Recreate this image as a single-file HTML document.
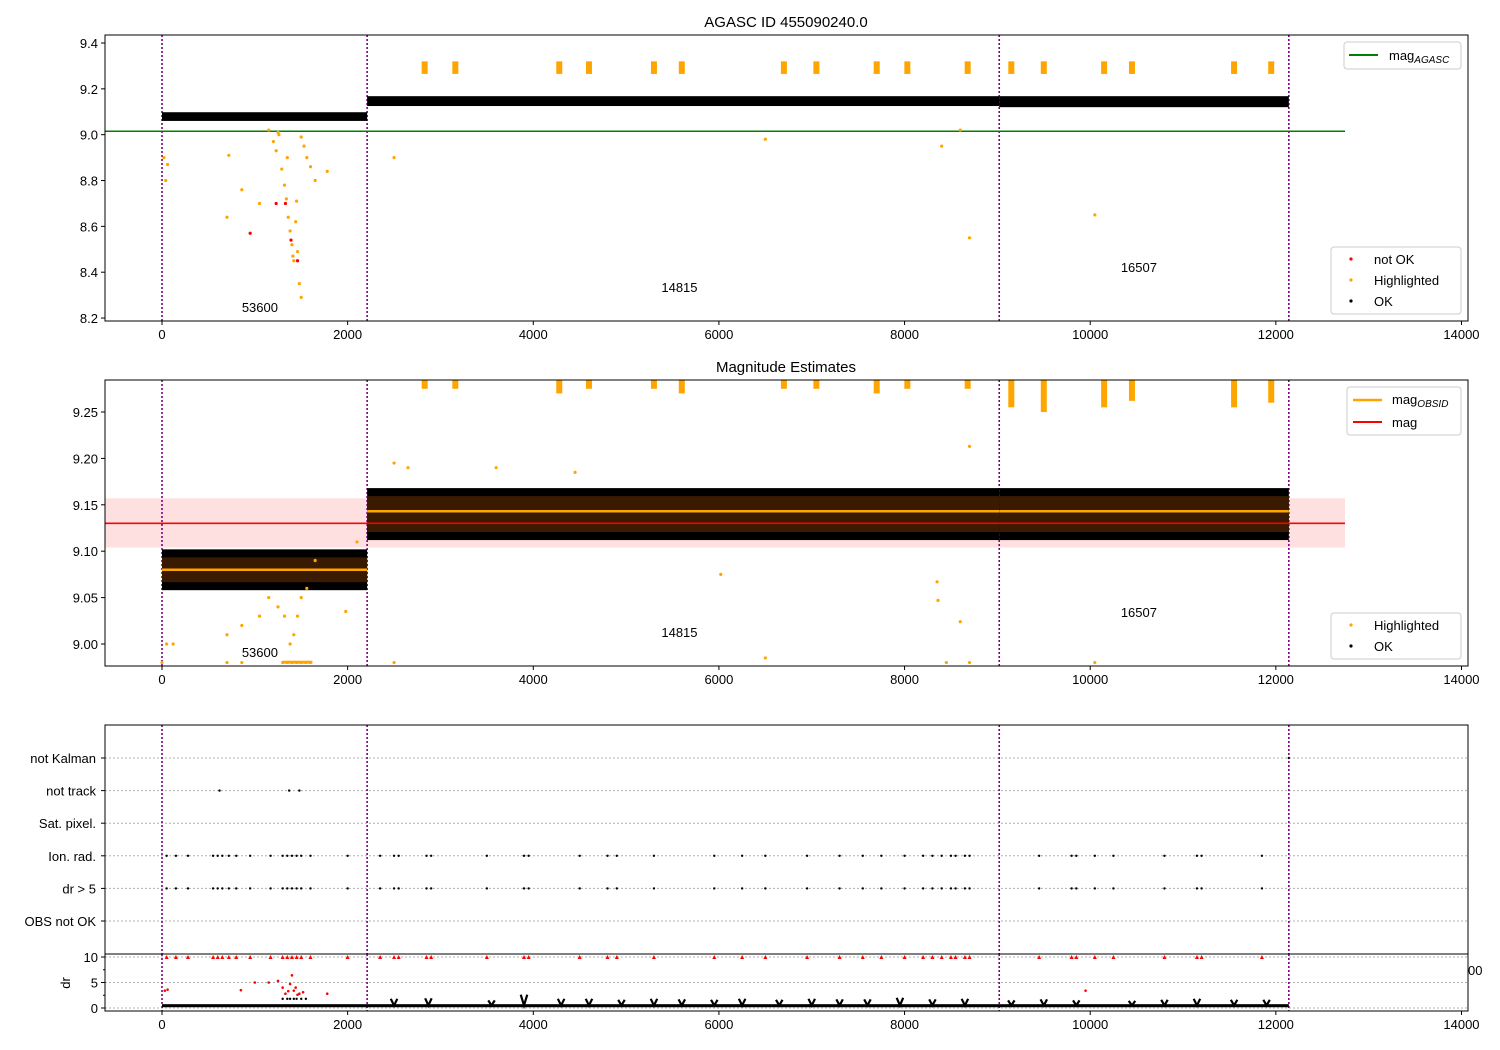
<!DOCTYPE html>
<html><head><meta charset="utf-8"><style>
body{margin:0;background:#fff;}
svg{display:block;font-family:"Liberation Sans","DejaVu Sans",sans-serif;}
</style></head><body>
<svg id="c" width="1500" height="1050" viewBox="0 0 1500 1050" xmlns="http://www.w3.org/2000/svg"></svg>
<script>
// ---- data ----
const xTicks=[0,2000,4000,6000,8000,10000,12000,14000];
const obsBounds=[0,2210,9020,12140];
const obsLabels=["53600","14815","16507"];
const obsLabelX=[860,5380,10330];
const y1Ticks=[8.2,8.4,8.6,8.8,9.0,9.2,9.4];
const y2Ticks=[9.00,9.05,9.10,9.15,9.20,9.25];
const y4Ticks=[0,5,10];
const categories=["OBS not OK","dr > 5","Ion. rad.","Sat. pixel.","not track","not Kalman"];
const magAgasc=9.015;
const magMean=9.13, magLo=9.104, magHi=9.157;
// OK band segments
const segStart=[0,2210,9020];
const segEnd=[2210,9020,12140];
const band1Lo=[9.06,9.125,9.12];
const band1Hi=[9.098,9.168,9.168];
const band2Lo=[9.058,9.112,9.112];
const band2Hi=[9.102,9.168,9.168];
const segMag=[9.08,9.143,9.143];
// highlighted clusters (orange)
const clusterX=[2830,3160,4280,4600,5300,5600,6700,7050,7700,8030,8680,9150,9500,10150,10450,11550,11950];
const clusterLo2=[9.275,9.275,9.27,9.275,9.275,9.27,9.275,9.275,9.27,9.275,9.275,9.255,9.25,9.255,9.262,9.255,9.26];
// scattered highlighted points
const hiX=[20,40,60,700,720,860,1050,1150,1200,1230,1260,1290,1320,1340,1360,1380,1400,1410,1420,1440,1460,1480,1500,1530,1560,1600,1650,1780,2500,6500,8400,8600,8700,10050,1350,1450,1500,1250];
const hiY=[8.9,8.8,8.87,8.64,8.91,8.76,8.7,9.02,8.97,8.93,9.0,8.85,8.78,8.72,8.64,8.58,8.52,8.47,8.45,8.62,8.49,8.35,8.29,8.95,8.9,8.86,8.8,8.84,8.9,8.98,8.95,9.02,8.55,8.65,8.9,8.71,8.99,9.01];
const hi2X=[50,120,700,860,1050,1150,1250,1320,1380,1420,1460,1500,1560,1650,1980,2100,2500,6020,6500,8350,8360,8600,8700,3600,2650,4450];
const hi2Y=[9.0,9.0,9.01,9.02,9.03,9.05,9.04,9.03,9.0,9.01,9.03,9.05,9.06,9.09,9.035,9.11,9.195,9.075,8.985,9.067,9.047,9.024,9.213,9.19,9.19,9.185];
const notOkX=[1230,1330,1390,1460,950];
const notOkY=[8.7,8.7,8.54,8.45,8.57];
// flag rows
const flagX=[50,150,280,550,600,650,720,800,950,1170,1300,1350,1400,1450,1500,1600,2000,2350,2500,2550,2850,2900,3500,3900,3950,4500,4800,4900,5300,5950,6250,6500,6950,7300,7550,7750,8000,8200,8300,8400,8500,8550,8650,8700,9450,9800,9850,10050,10250,10800,11150,11200,11850];
const notTrackX=[620,1370,1480];
const notKalmanX=[12140];
// dr
const drBumpX=[2500,2870,3550,3900,4300,4600,4950,5300,5600,5950,6250,6650,7000,7300,7600,7950,8300,8650,9150,9500,9850,10450,10800,11150,11550,11900];
const drBumpH=[1.8,1.9,1.5,2.6,1.8,1.8,1.6,1.8,1.7,1.6,1.8,1.6,1.8,1.7,1.7,2.0,1.7,1.8,1.5,1.7,1.5,1.4,1.6,1.8,1.6,1.6];
const drRedX=[30,60,850,1000,1150,1250,1300,1330,1360,1380,1400,1420,1440,1460,1480,1520,1780,9950];
const drRedY=[3.4,3.6,3.5,5.0,5.0,5.3,4.0,2.8,3.3,4.7,6.4,3.4,4.0,2.6,2.8,3.1,2.8,3.4];

// ---- scales ----
const X=v=>162+v*0.09282;
const Y1=v=>43+(9.4-v)*229.2;
const Y2=v=>644-(v-9.0)*928;
const Y3=i=>921-i*32.6;
const Y4=v=>1008-v*5.1;
const L=105,R=1468;
const svg=document.getElementById('c');
const NS='http://www.w3.org/2000/svg';
function el(t,a,p){const e=document.createElementNS(NS,t);for(const k in a)e.setAttribute(k,a[k]);(p||svg).appendChild(e);return e;}
function txt(x,y,s,a,p){const e=el('text',Object.assign({x:x,y:y,'font-size':13,fill:'#000'},a||{}),p);e.textContent=s;return e;}

const panels=[{t:35,b:321},{t:380,b:666},{t:725,b:954},{t:954,b:1011}];
function clip(id,p){const cp=el('clipPath',{id:id});el('rect',{x:L,y:p.t,width:R-L,height:p.b-p.t},cp);}
panels.forEach((p,i)=>clip('cp'+i,p));

function xAxis(p,g){xTicks.forEach(v=>{const x=X(v);el('line',{x1:x,x2:x,y1:p.b,y2:p.b+4,stroke:'#000'},g);const t=txt(x,p.b+18,String(v),{'text-anchor':'middle'},g);});}
function vlines(p,g){obsBounds.forEach(v=>{const l=el('line',{x1:X(v),x2:X(v),y1:p.t,y2:p.b,stroke:'purple','stroke-width':1.6,'stroke-dasharray':'2,2'},g);});}
function dot(g,x,y,c,r){return el('circle',{cx:x,cy:y,r:r||1.6,fill:c},g);}

// ===== Panel 1 =====
{const p=panels[0];const g=el('g',{});
const t=txt(786,27,'AGASC ID 455090240.0',{'text-anchor':'middle','font-size':15},g);
const d=el('g',{'clip-path':'url(#cp0)'},g);
vlines(p,d);
const gl=el('line',{x1:L,x2:1345,y1:Y1(magAgasc),y2:Y1(magAgasc),stroke:'green','stroke-width':1.6},d);
segStart.forEach((s,i)=>{const r=el('rect',{x:X(s),y:Y1(band1Hi[i]),width:X(segEnd[i])-X(s),height:Y1(band1Lo[i])-Y1(band1Hi[i]),fill:'#000'},d);});
clusterX.forEach(v=>{const r=el('rect',{x:X(v)-3,y:Y1(9.32),width:6,height:Y1(9.265)-Y1(9.32),fill:'orange'},d);});
hiX.forEach((v,i)=>{const c=dot(d,X(v),Y1(hiY[i]),'orange');});
notOkX.forEach((v,i)=>{const c=dot(d,X(v),Y1(notOkY[i]),'red');});
obsLabels.forEach((s,i)=>txt(X(obsLabelX[i]),[312,292,272][i],s,{},g));
el('rect',{x:L,y:p.t,width:R-L,height:p.b-p.t,fill:'none',stroke:'#000'},g);
y1Ticks.forEach(v=>{const y=Y1(v);el('line',{x1:L-4,x2:L,y1:y,y2:y,stroke:'#000'},g);txt(L-7,y+5,v.toFixed(1),{'text-anchor':'end'},g);});
xAxis(p,g);
const lg=el('g',{},g);
el('rect',{x:1344,y:42,width:117,height:27,rx:3,fill:'#fff',stroke:'#ccc'},lg);
el('line',{x1:1349,x2:1378,y1:55,y2:55,stroke:'green','stroke-width':2},lg);
const tt=txt(1389,60,'mag',{},lg);const ts=el('tspan',{'font-size':10,'font-style':'italic',dy:3},tt);ts.textContent='AGASC';
const lg2=el('g',{},g);
el('rect',{x:1331,y:247,width:130,height:67,rx:3,fill:'#fff',stroke:'#ccc'},lg2);
[['red','not OK',259],['orange','Highlighted',280],['#000','OK',301]].forEach(a=>{dot(lg2,1351,a[2],a[0],1.6);txt(1374,a[2]+5,a[1],{},lg2);});
}
// ===== Panel 2 =====
{const p=panels[1];const g=el('g',{});
txt(786,372,'Magnitude Estimates',{'text-anchor':'middle','font-size':15},g);
const d=el('g',{'clip-path':'url(#cp1)'},g);
const pb=el('rect',{x:L,y:Y2(magHi),width:1345-L,height:Y2(magLo)-Y2(magHi),fill:'rgba(255,0,0,0.12)'},d);
vlines(p,d);
segStart.forEach((s,i)=>{const r=el('rect',{x:X(s),y:Y2(band2Hi[i]),width:X(segEnd[i])-X(s),height:Y2(band2Lo[i])-Y2(band2Hi[i]),fill:'#000'},d);
el('rect',{x:X(s),y:Y2(band2Hi[i])+8,width:X(segEnd[i])-X(s),height:Y2(band2Lo[i])-Y2(band2Hi[i])-16,fill:'#3a1a00'},d);
const ol=el('line',{x1:X(s),x2:X(segEnd[i]),y1:Y2(segMag[i]),y2:Y2(segMag[i]),stroke:'orange','stroke-width':2.5},d);});
const rl=el('line',{x1:L,x2:1345,y1:Y2(magMean),y2:Y2(magMean),stroke:'red','stroke-width':1.6},d);
clusterX.forEach((v,i)=>{const r=el('rect',{x:X(v)-3,y:Y2(9.29),width:6,height:Y2(clusterLo2[i])-Y2(9.29),fill:'orange'},d);});
hi2X.forEach((v,i)=>{const c=dot(d,X(v),Y2(hi2Y[i]),'orange');});
[0,700,860,1300,1350,1400,1450,1500,1550,1600,2500,8450,8700,10050].forEach(v=>dot(d,X(v),Y2(8.98),'orange'));
el('rect',{x:X(1300),y:Y2(8.982),width:X(1620)-X(1300),height:3,fill:'orange'},d);
obsLabels.forEach((s,i)=>txt(X(obsLabelX[i]),[657,637,617][i],s,{},g));
el('rect',{x:L,y:p.t,width:R-L,height:p.b-p.t,fill:'none',stroke:'#000'},g);
y2Ticks.forEach(v=>{const y=Y2(v);el('line',{x1:L-4,x2:L,y1:y,y2:y,stroke:'#000'},g);txt(L-7,y+5,v.toFixed(2),{'text-anchor':'end'},g);});
xAxis(p,g);
const lg=el('g',{},g);
el('rect',{x:1347,y:387,width:114,height:48,rx:3,fill:'#fff',stroke:'#ccc'},lg);
el('line',{x1:1353,x2:1382,y1:400,y2:400,stroke:'orange','stroke-width':2.5},lg);
const tt=txt(1392,404,'mag',{},lg);const ts=el('tspan',{'font-size':10,'font-style':'italic',dy:3},tt);ts.textContent='OBSID';
el('line',{x1:1353,x2:1382,y1:422,y2:422,stroke:'red','stroke-width':2},lg);txt(1392,427,'mag',{},lg);
const lg2=el('g',{},g);
el('rect',{x:1331,y:613,width:130,height:46,rx:3,fill:'#fff',stroke:'#ccc'},lg2);
[['orange','Highlighted',625],['#000','OK',646]].forEach(a=>{dot(lg2,1351,a[2],a[0],1.6);txt(1374,a[2]+5,a[1],{},lg2);});
}
// ===== Panel 3 =====
{const p=panels[2];const g=el('g',{});
categories.forEach((c,i)=>{const y=Y3(i);el('line',{x1:L,x2:R,y1:y,y2:y,stroke:'#b0b0b0','stroke-dasharray':'2,2'},g);el('line',{x1:L-4,x2:L,y1:y,y2:y,stroke:'#000'},g);const t=txt(L-9,y+5,c,{'text-anchor':'end'},g);});
const d=el('g',{'clip-path':'url(#cp2)'},g);vlines(p,d);
flagX.forEach(v=>{dot(d,X(v),Y3(2),'#000',1.2);dot(d,X(v),Y3(1),'#000',1.2);});
notTrackX.forEach(v=>dot(d,X(v),Y3(4),'#000',1.2));
notKalmanX.forEach(v=>dot(d,X(v),Y3(5),'#000',1.2));
el('rect',{x:L,y:p.t,width:R-L,height:p.b-p.t,fill:'none',stroke:'#000'},g);
txt(1468,975,'00',{},g);
}
// ===== Panel 4 =====
{const p=panels[3];const g=el('g',{});
y4Ticks.forEach(v=>{const y=Y4(v);el('line',{x1:L,x2:R,y1:y,y2:y,stroke:'#b0b0b0','stroke-dasharray':'2,2'},g);el('line',{x1:L-4,x2:L,y1:y,y2:y,stroke:'#000'},g);txt(L-7,y+5,String(v),{'text-anchor':'end'},g);});
[2.5,7.5].forEach(v=>el('line',{x1:L-2,x2:L,y1:Y4(v),y2:Y4(v),stroke:'#000'},g));
const yl=txt(70,983,'dr',{'text-anchor':'middle',transform:'rotate(-90 70 983)'},g);
const d=el('g',{'clip-path':'url(#cp3)'},g);vlines(p,d);
const base=el('rect',{x:X(0),y:Y4(0.75),width:X(12140)-X(0),height:Y4(0.15)-Y4(0.75),fill:'#000'},d);
drBumpX.forEach((v,i)=>{const pl=el('polyline',{points:`${X(v-35)},${Y4(drBumpH[i])} ${X(v)},${Y4(0.5)} ${X(v+35)},${Y4(drBumpH[i])}`,fill:'none',stroke:'#000','stroke-width':2.2},d);});
flagX.forEach(v=>{const t=el('polygon',{points:`${X(v)-2},${Y4(10)+2} ${X(v)+2},${Y4(10)+2} ${X(v)},${Y4(10)-2}`,fill:'red'},d);});
drRedX.forEach((v,i)=>{const c=dot(d,X(v),Y4(drRedY[i]),'red',1.3);});
[1300,1350,1380,1420,1450,1500,1550].forEach(v=>dot(d,X(v),Y4(1.8),'#000',1.2));
el('rect',{x:L,y:p.t,width:R-L,height:p.b-p.t,fill:'none',stroke:'#000'},g);
xAxis(p,g);
}
</script>
</body></html>
